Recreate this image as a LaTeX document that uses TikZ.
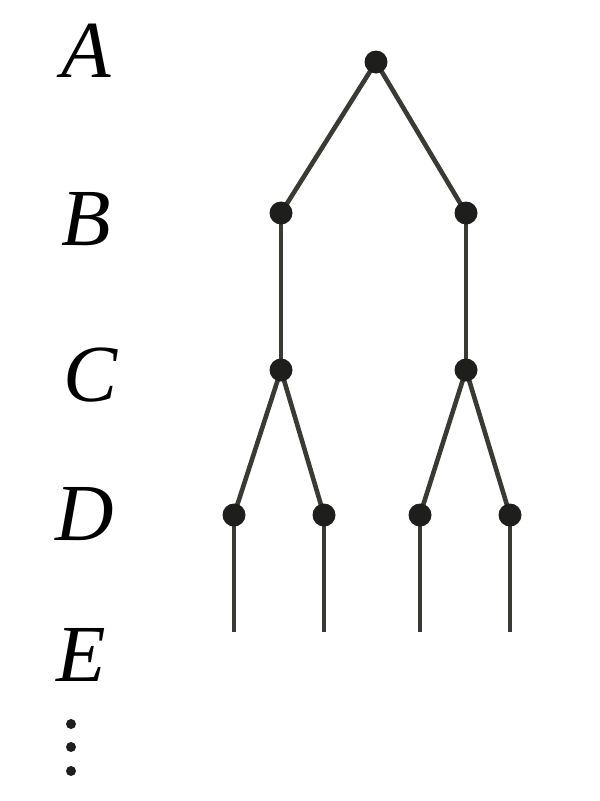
\documentclass[tikz,border=0pt]{standalone}
\usepackage{fontspec}
\setmainfont{Liberation Serif}
\definecolor{edgecol}{RGB}{58,58,52}
\definecolor{dotcol}{RGB}{30,30,28}
\begin{document}
\begin{tikzpicture}[x=1pt,y=-1pt,
  lbl/.style={anchor=base,inner sep=0pt,font=\fontsize{81}{81}\selectfont\itshape},
  vtx/.style={circle,fill=dotcol,inner sep=0pt,minimum size=23pt},
  edge/.style={draw=edgecol,line width=4.6pt},
  ell/.style={circle,fill=dotcol,inner sep=0pt,minimum size=10pt}]
\useasboundingbox (0,0) rectangle (600,801);
% level labels
\node[lbl] (lA) at (86.5,77) {A};
\node[lbl] (lB) at (86,245) {B};
\node[lbl] (lC) at (91,401) {C};
\node[lbl] (lD) at (85,540) {D};
\node[lbl] (lE) at (81.5,681) {E};
\node[ell] (e1) at (71,724) {};
\node[ell] (e2) at (71,747) {};
\node[ell] (e3) at (71,771) {};
% tree vertices
\coordinate (a) at (376,62);
\coordinate (b1) at (281,213);
\coordinate (b2) at (466,213);
\coordinate (c1) at (281,370);
\coordinate (c2) at (466,370);
\coordinate (d1) at (234,515);
\coordinate (d2) at (324,515);
\coordinate (d3) at (420,515);
\coordinate (d4) at (510,515);
\coordinate (f1) at (234,632);
\coordinate (f2) at (324,632);
\coordinate (f3) at (420,632);
\coordinate (f4) at (510,632);
% edges
\draw[edge] (a) -- (b1);
\draw[edge] (a) -- (b2);
\draw[edge] (b1) -- (c1);
\draw[edge] (b2) -- (c2);
\draw[edge] (c1) -- (d1);
\draw[edge] (c1) -- (d2);
\draw[edge] (c2) -- (d3);
\draw[edge] (c2) -- (d4);
\draw[edge] (d1) -- (f1);
\draw[edge] (d2) -- (f2);
\draw[edge] (d3) -- (f3);
\draw[edge] (d4) -- (f4);
% vertex dots
\foreach \p in {a,b1,b2,c1,c2,d1,d2,d3,d4}
  \node[vtx] (v\p) at (\p) {};
\end{tikzpicture}
\end{document}
